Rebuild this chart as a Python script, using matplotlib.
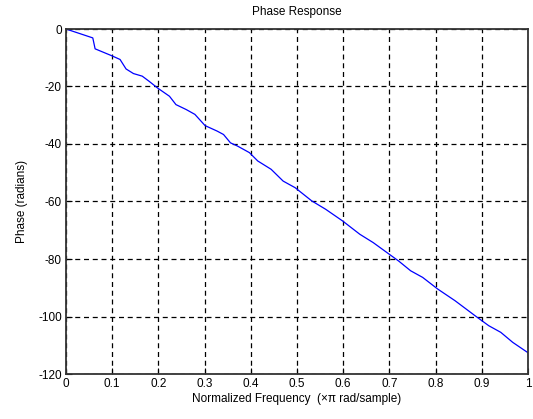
import matplotlib
matplotlib.use("Agg")
import matplotlib.pyplot as plt

# Normalized frequency (x pi rad/sample) and unwrapped phase (radians)
freq = [0.0, 0.058, 0.063, 0.099, 0.117, 0.130, 0.146, 0.165, 0.180, 0.198,
        0.224, 0.238, 0.260, 0.279, 0.301, 0.327, 0.341, 0.356, 0.371, 0.397,
        0.415, 0.444, 0.470, 0.496, 0.532, 0.562, 0.599, 0.636, 0.665, 0.695,
        0.720, 0.746, 0.772, 0.805, 0.842, 0.886, 0.915, 0.941, 0.967, 1.0]
phase = [0.0, -3.1, -6.9, -9.3, -10.6, -13.9, -15.5, -16.4, -18.2, -20.5,
         -23.4, -26.3, -28.0, -29.7, -33.6, -35.5, -36.7, -39.6, -40.7, -43.0,
         -45.9, -48.8, -52.9, -55.2, -59.8, -62.7, -66.8, -71.4, -74.3, -77.8,
         -80.7, -84.1, -86.4, -90.5, -94.5, -99.8, -103.2, -105.5, -109.0, -112.6]

xticks = [0, 0.1, 0.2, 0.3, 0.4, 0.5, 0.6, 0.7, 0.8, 0.9, 1]
xticklabels = ["0", "0.1", "0.2", "0.3", "0.4", "0.5", "0.6", "0.7", "0.8", "0.9", "1"]
yticks = [0, -20, -40, -60, -80, -100, -120]

plt.rcParams["font.family"] = ["Liberation Sans", "DejaVu Sans"]
plt.rcParams["axes.unicode_minus"] = False

W, H = 533, 419
fig = plt.figure(figsize=(W / 100, H / 100), dpi=100)
fig.patch.set_facecolor("white")
left, right, top, bottom = 66, 528, 29, 374
ax = fig.add_axes([left / W, 1 - bottom / H, (right - left) / W, (bottom - top) / H])

ax.plot(freq, phase, color="#0000ff", linewidth=0.9)

ax.set_xlim(0, 1)
ax.set_ylim(-120, 0)
ax.set_xticks(xticks)
ax.set_xticklabels(xticklabels)
ax.set_yticks(yticks)

ax.grid(True, color="black", linestyle=(0, (4, 3)), linewidth=0.9)
ax.tick_params(direction="in", length=4, width=0.8, labelsize=8.5, pad=3, colors="black")
for s in ax.spines.values():
    s.set_linewidth(1.3)
    s.set_color("#333333")

ax.set_title("Phase Response", fontsize=8.5, pad=10)
ax.set_xlabel("Normalized Frequency  (\u00d7\u03c0 rad/sample)", fontsize=8.5, labelpad=2)
ax.set_ylabel("Phase (radians)", fontsize=8.5, labelpad=7)

fig.savefig("out.png", dpi=100)
